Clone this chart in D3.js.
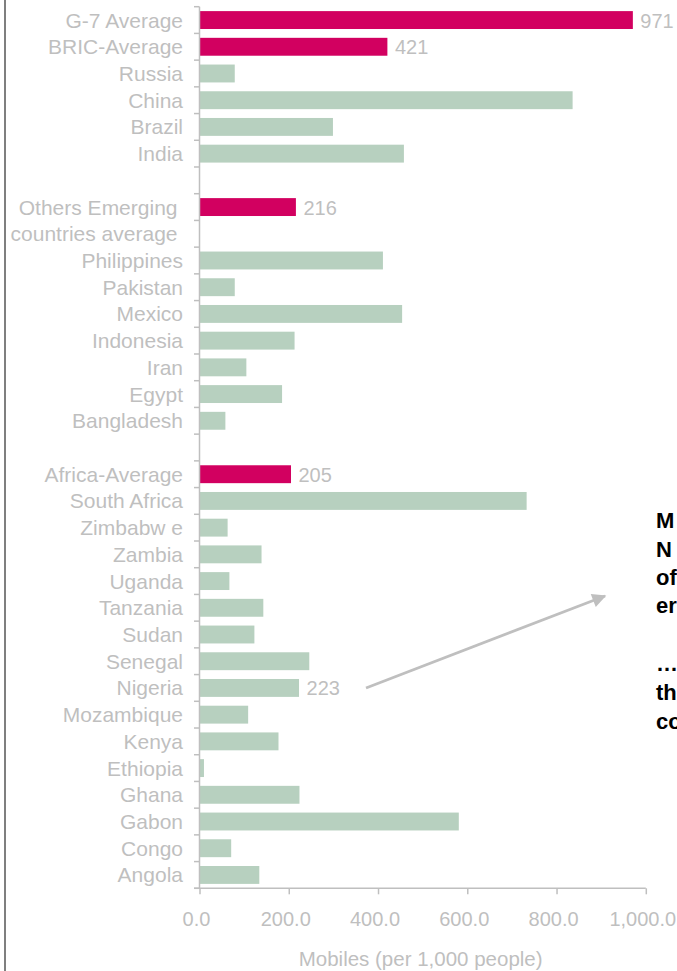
<!DOCTYPE html>
<html>
<head>
<meta charset="utf-8">
<script src="https://cdn.jsdelivr.net/npm/d3@7"></script>
<style>
  html, body { margin: 0; padding: 0; background: #ffffff; overflow: hidden; }
  svg { display: block; font-family: "Liberation Sans", Arial, sans-serif; }
</style>
</head>
<body>
<svg id="chart" width="677" height="971"></svg>
<script>
// Mobile phone subscriptions per 1,000 people, grouped by region.
// Empty strings are spacer rows between the groups.
const categories = [
  "G-7 Average", "BRIC-Average", "Russia", "China", "Brazil", "India", "",
  "Others Emerging\ncountries average", "", "Philippines", "Pakistan", "Mexico",
  "Indonesia", "Iran", "Egypt", "Bangladesh", "",
  "Africa-Average", "South Africa", "Zimbabw e", "Zambia", "Uganda", "Tanzania",
  "Sudan", "Senegal", "Nigeria", "Mozambique", "Kenya", "Ethiopia", "Ghana",
  "Gabon", "Congo", "Angola"
];
const mobiles = [
  971, 421, 79, 836, 299, 458, null,
  216, null, 411, 79, 454,
  213, 105, 185, 58, null,
  205, 733, 63, 139, 67, 143,
  123, 246, 223, 109, 177, 10, 224,
  581, 71, 134
];
// Group averages are drawn in the accent colour.
const averages = ["G-7 Average", "BRIC-Average", "Others Emerging\ncountries average", "Africa-Average"];
// Bars that carry a value label.
const labelled = ["G-7 Average", "BRIC-Average", "Others Emerging\ncountries average", "Africa-Average", "Nigeria"];
const xTicks = [0, 200, 400, 600, 800, 1000];
const axisTitle = "Mobiles (per 1,000 people)";
const noteLines = ["M", "N", "of", "er", "", "…", "th", "co"];

const svg = d3.select("#chart");
const grey = "#bfbfbf";
const accent = "#d20060";
const green = "#b7d0bf";

const x = d3.scaleLinear().domain([0, 1000]).range([199.5, 645.8]);
const y = d3.scaleBand()
  .domain(d3.range(categories.length))
  .range([6.7, 888.3])
  .paddingInner(0.33)
  .paddingOuter(0.165);

// frame edge on the left
svg.append("line")
  .attr("x1", 5).attr("x2", 5).attr("y1", 0).attr("y2", 971)
  .attr("stroke", "#7f7f7f").attr("stroke-width", 2);

// bars
const rows = categories.map((c, i) => ({ c, i, v: mobiles[i] })).filter(d => d.v != null);
svg.append("g").selectAll("rect").data(rows).join("rect")
  .attr("x", x(0))
  .attr("y", d => y(d.i))
  .attr("width", d => x(d.v) - x(0))
  .attr("height", y.bandwidth())
  .attr("fill", d => averages.includes(d.c) ? accent : green);

// value labels
svg.append("g").selectAll("text").data(rows.filter(d => labelled.includes(d.c))).join("text")
  .attr("x", d => x(d.v) + 7.5)
  .attr("y", d => y(d.i) + y.bandwidth() / 2 + 7.5)
  .attr("fill", grey)
  .attr("font-size", 20)
  .text(d => d.v);

// category axis: line with ticks on the slot boundaries
const step = y.step();
const plotTop = y.range()[0], plotBottom = y.range()[1];
const gy = svg.append("g").attr("stroke", grey).attr("stroke-width", 1.5);
gy.append("line").attr("x1", x(0)).attr("x2", x(0)).attr("y1", plotTop).attr("y2", plotBottom);
gy.selectAll("line.tick").data(d3.range(categories.length + 1)).join("line")
  .attr("class", "tick")
  .attr("x1", x(0) - 5.5).attr("x2", x(0))
  .attr("y1", k => plotTop + k * step).attr("y2", k => plotTop + k * step);

// category labels
const lab = svg.append("g").attr("fill", grey).attr("font-size", 21).attr("text-anchor", "end");
categories.forEach((c, i) => {
  if (!c) return;
  const lines = c.split("\n");
  const lx = lines.length > 1 ? x(0) - 22 : x(0) - 16.5;
  const t = lab.append("text")
    .attr("x", lx)
    .attr("y", y(i) + y.bandwidth() / 2 + 7.5);
  lines.forEach((ln, j) => {
    t.append("tspan").attr("x", lx).attr("dy", j === 0 ? 0 : step).text(ln);
  });
});

// value axis
const gx = svg.append("g").attr("transform", `translate(0,${plotBottom})`)
  .call(d3.axisBottom(x).tickValues(xTicks).tickSize(6).tickSizeOuter(0)
    .tickFormat(d3.format(",.1f")));
gx.select(".domain").attr("stroke", grey).attr("stroke-width", 1.5)
  .attr("d", `M${x(0) - 5.5},0H${x(1000)}`);
gx.selectAll(".tick line").attr("stroke", grey).attr("stroke-width", 1.5);
gx.selectAll(".tick text")
  .attr("fill", grey)
  .attr("font-size", 20)
  .attr("font-family", "Liberation Sans, Arial, sans-serif")
  .attr("dx", -3.5)
  .attr("y", 24)
  .attr("dy", "0.71em");

svg.append("text")
  .attr("x", (x(0) + x(1000)) / 2 - 2)
  .attr("y", 966)
  .attr("text-anchor", "middle")
  .attr("fill", grey)
  .attr("font-size", 20.5)
  .text(axisTitle);

// annotation arrow from the Nigeria bar towards the note
const nig = categories.indexOf("Nigeria");
svg.append("defs").append("marker")
  .attr("id", "head").attr("viewBox", "0 0 10 10")
  .attr("refX", 9).attr("refY", 5)
  .attr("markerWidth", 6).attr("markerHeight", 5)
  .attr("markerUnits", "strokeWidth")
  .attr("orient", "auto")
  .append("path").attr("d", "M0,0L10,5L0,10Z").attr("fill", grey);
svg.append("line")
  .attr("x1", x(mobiles[nig]) + 67)
  .attr("y1", y(nig) + y.bandwidth() / 2)
  .attr("x2", 605).attr("y2", 596)
  .attr("stroke", grey).attr("stroke-width", 2.8)
  .attr("marker-end", "url(#head)");

// note text, running off the right edge
const noteY = [528, 556.5, 584.5, 612.5, null, 671, 700, 728.5];
svg.append("g").attr("font-weight", "bold").attr("font-size", 22).attr("fill", "#000")
  .selectAll("text").data(noteLines.map((t, i) => ({ t, yy: noteY[i] })).filter(d => d.t))
  .join("text")
  .attr("x", 656)
  .attr("y", d => d.yy)
  .text(d => d.t);
</script>
</body>
</html>
